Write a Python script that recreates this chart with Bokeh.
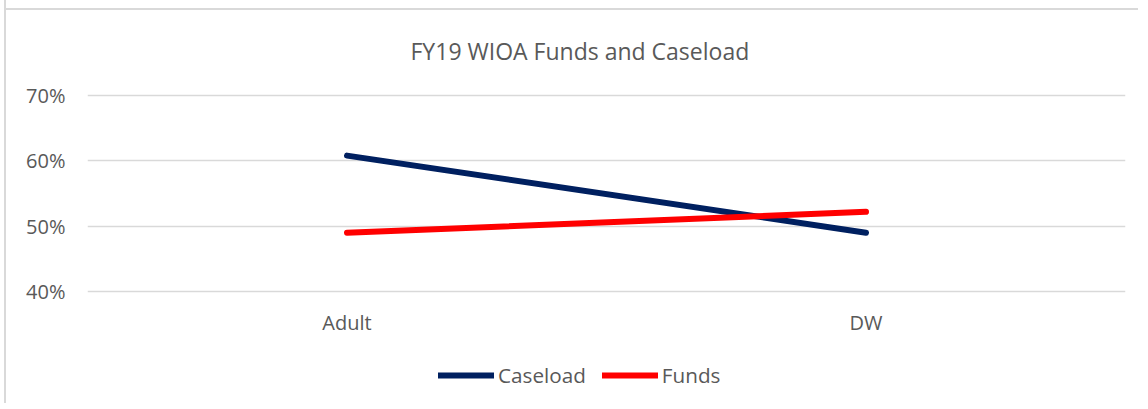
from bokeh.plotting import figure
from bokeh.models import NumeralTickFormatter, Legend, LegendItem, Title
from bokeh.embed import file_html
from bokeh.resources import INLINE

categories = ["Adult", "DW"]
caseload = [0.608, 0.49]
funds = [0.49, 0.522]
y_ticks = [0.4, 0.5, 0.6, 0.7]

FONT = "Open Sans"
TXT = "#595959"

p = figure(x_range=categories, y_range=(0.2286, 0.7046), width=1134, height=403,
           output_backend="svg", toolbar_location=None,
           min_border_left=81, min_border_right=15, min_border_top=92, min_border_bottom=0)
p.outline_line_color = None
p.background_fill_color = "white"
p.border_fill_alpha = 0
p.title.visible = False
p.styles = {"margin-left": "4px",
            "border-left": "2px solid #d9d9d9",
            "background": "linear-gradient(#d9d9d9, #d9d9d9) 0 8px / 100% 2px no-repeat, white"}

t = Title(text="FY19 WIOA Funds and Caseload", align="left", offset=323, standoff=52,
          text_font=FONT, text_font_size="23px", text_font_style="normal", text_color=TXT)
p.add_layout(t, "above")

r1 = p.line(categories, caseload, line_color="#002060", line_width=6, line_cap="round")
r2 = p.line(categories, funds, line_color="#FF0000", line_width=6, line_cap="round")

p.xgrid.grid_line_color = None
p.ygrid.grid_line_color = "#d9d9d9"
p.ygrid.grid_line_width = 1.5
p.yaxis.ticker = y_ticks
p.yaxis.formatter = NumeralTickFormatter(format="0%")

for ax in (p.xaxis[0], p.yaxis[0]):
    ax.axis_line_color = None
    ax.major_tick_line_color = None
    ax.minor_tick_line_color = None
    ax.major_tick_out = 0
    ax.major_tick_in = 0
    ax.major_label_text_font = FONT
    ax.major_label_text_font_size = "20px"
    ax.major_label_text_color = TXT
p.yaxis.major_label_standoff = 22
p.xaxis.fixed_location = 0.4
p.xaxis.major_label_standoff = 17

legend = Legend(items=[LegendItem(label="Caseload", renderers=[r1]),
                       LegendItem(label="Funds", renderers=[r2])],
                orientation="horizontal", location=(351, 14),
                label_text_font=FONT, label_text_font_size="20.7px", label_text_color=TXT,
                glyph_width=56, glyph_height=20, label_standoff=4, spacing=16,
                border_line_color=None, background_fill_alpha=0, padding=2, margin=0)
p.add_layout(legend, "center")

open("out.html", "w").write(file_html(p, INLINE))
